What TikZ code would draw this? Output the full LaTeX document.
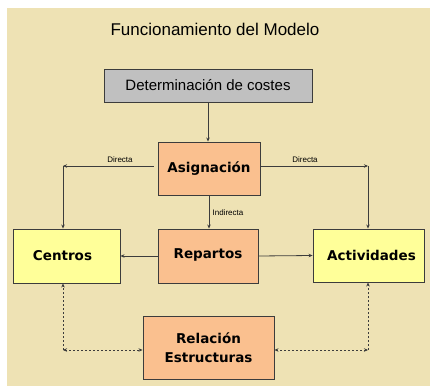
\documentclass[tikz,border=0pt]{standalone}
\usepackage{fontspec}
\setmainfont{Liberation Sans}
\newfontfamily\dvs{DejaVu Sans}
\usetikzlibrary{arrows.meta}
\definecolor{bg}{RGB}{238,226,180}
\definecolor{peach}{RGB}{250,192,143}
\definecolor{pale}{RGB}{255,255,153}
\definecolor{greybox}{RGB}{192,192,192}
\definecolor{edge}{RGB}{60,60,60}
\begin{document}
\begin{tikzpicture}[x=1pt,y=-1pt,
  box/.style={draw=edge,line width=0.9pt,inner sep=0pt,align=center},
  bold/.style={font=\dvs\bfseries\fontsize{13.5}{16}\selectfont},
  arr/.style={draw=edge,line width=0.8pt,-{Stealth[length=4pt,width=3.5pt]}},
  dbl/.style={draw=edge,line width=0.8pt,{Stealth[length=4pt,width=3.5pt]}-{Stealth[length=4pt,width=3.5pt]}},
  dot/.style={dash pattern=on 2pt off 2pt},
  small/.style={font=\fontsize{8}{9}\selectfont,inner sep=1pt}
]
\useasboundingbox (0,0) rectangle (430,387);
\fill[bg] (7,8) rectangle (430,386);
\node[font=\fontsize{17}{20}\selectfont] (title) at (215,29) {Funcionamiento del Modelo};

\node[box,fill=greybox,minimum width=208pt,minimum height=33pt,font=\fontsize{15}{18}\selectfont] (det) at (208,85.5) {Determinación de costes};
\node[box,fill=peach,minimum width=102pt,minimum height=53pt,bold] (asig) at (209,168.5) {Asignación};
\node[box,fill=peach,minimum width=100pt,minimum height=54pt,bold] (rep) at (208,256) {\raisebox{4pt}{Repartos}};
\node[box,fill=pale,minimum width=107pt,minimum height=54pt,bold] (cen) at (66.5,256) {\hspace*{-8pt}\raisebox{-1pt}{Centros}};
\node[box,fill=pale,minimum width=111pt,minimum height=53pt,bold] (act) at (368.5,255.5) {\hspace*{6pt}\raisebox{-2pt}{Actividades}};
\node[box,fill=peach,minimum width=131pt,minimum height=63pt,bold,font=\dvs\bfseries\fontsize{13.5}{19}\selectfont] (rel) at (208.5,347.5) {Relación\\Estructuras};

\coordinate (cL) at (63,166);
\coordinate (cR) at (368,166);
\coordinate (dL) at (63,350);
\coordinate (dR) at (368,350);

\draw[arr] (det.south) -- (det.south |- asig.north);
\draw[arr] ([xshift=-4pt]asig.west |- cL) -- (cL);
\draw[arr] (cL) -- (cL |- cen.north);
\draw[arr] (asig.east |- cR) -- (cR);
\draw[arr] (cR) -- (cR |- act.north);
\draw[arr] (asig.south) -- (asig.south |- rep.north);
\draw[arr] (rep.west) -- (cen.east);
\draw[arr] (rep.east) -- (act.west);

\node[small] (d1) at (120,160) {Directa};
\node[small] (d2) at (305,160) {Directa};
\node[small] (ind) at (228,213) {Indirecta};

\draw[arr,dot] (dL) -- (dL |- cen.south);
\draw[dbl,dot] (dL) -- (rel.west |- dL);
\draw[arr,dot] (dR) -- (dR |- act.south);
\draw[dbl,dot] (dR) -- (rel.east |- dR);
\end{tikzpicture}
\end{document}
